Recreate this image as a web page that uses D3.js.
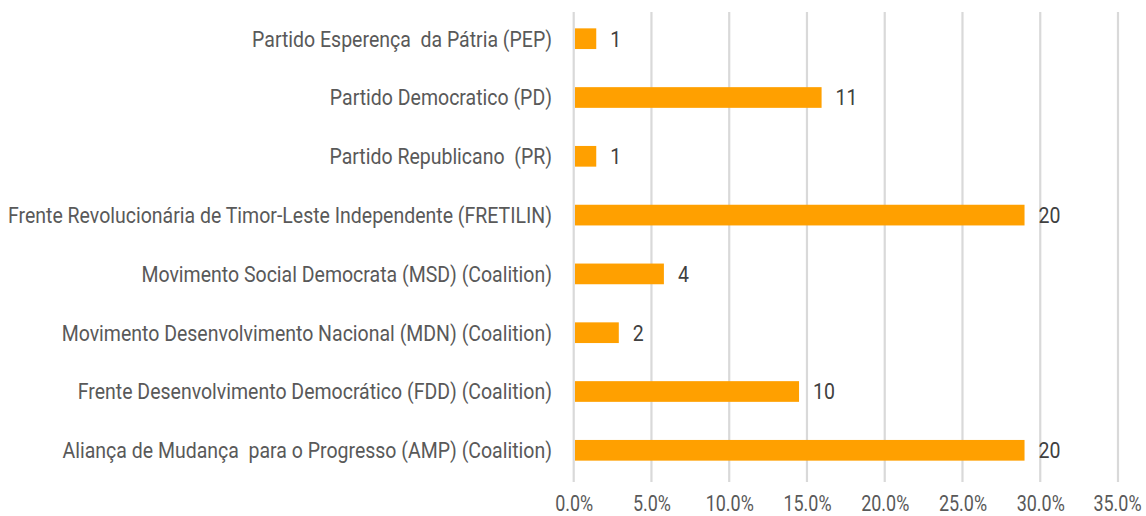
<!DOCTYPE html>
<html><head><meta charset="utf-8">
<script src="https://cdn.jsdelivr.net/npm/d3@7"></script>
<style>html,body{margin:0;padding:0;background:#fff;}svg{display:block;}</style>
</head><body>
<svg id="chart" width="1146" height="516"></svg>
<script>
const categories = [
  "Partido Esperença  da Pátria (PEP)",
  "Partido Democratico (PD)",
  "Partido Republicano  (PR)",
  "Frente Revolucionária de Timor-Leste Independente (FRETILIN)",
  "Movimento Social Democrata (MSD) (Coalition)",
  "Movimento Desenvolvimento Nacional (MDN) (Coalition)",
  "Frente Desenvolvimento Democrático (FDD) (Coalition)",
  "Aliança de Mudança  para o Progresso (AMP) (Coalition)"
];
const shares = [0.0145, 0.1594, 0.0145, 0.2899, 0.0580, 0.0290, 0.1449, 0.2899];
const seats = [1, 11, 1, 20, 4, 2, 10, 20];
const ticks = [0, 0.05, 0.10, 0.15, 0.20, 0.25, 0.30, 0.35];

const svg = d3.select("#chart");
const x = d3.scaleLinear().domain([0, 0.35]).range([573.7, 1118]);
const y = d3.scaleBand().domain(categories).range([9.3, 479.7]).paddingInner(0.648).paddingOuter(0.324);
const textColor = "#595959";
const font = "Roboto, 'Liberation Sans', sans-serif";
const fs = 22;

// condense factor so the longest label spans like the reference (Roboto Condensed look)
const probe = svg.append("text").attr("font-family", font).attr("font-size", fs)
  .style("white-space", "pre").text(categories[3]);
const condense = 544 / probe.node().getComputedTextLength();
probe.remove();

function cond(sel, k = 1) {
  sel.each(function() {
    const w = this.getComputedTextLength();
    d3.select(this).attr("textLength", w * condense * k).attr("lengthAdjust", "spacingAndGlyphs");
  });
}

// gridlines
svg.append("g").selectAll("line").data(ticks).join("line")
  .attr("x1", d => x(d)).attr("x2", d => x(d))
  .attr("y1", 12).attr("y2", 482)
  .attr("stroke", "#d9d9d9").attr("stroke-width", 2.2);

// bars
svg.append("g").selectAll("rect").data(categories).join("rect")
  .attr("x", x(0) + 1.3).attr("y", d => y(d))
  .attr("width", (d, i) => x(shares[i]) - x(0) - 1.3)
  .attr("height", y.bandwidth())
  .attr("fill", "#ffa000");

// value labels
svg.append("g").selectAll("text").data(categories).join("text")
  .attr("x", (d, i) => x(shares[i]) + 14)
  .attr("y", d => y(d) + y.bandwidth() / 2)
  .attr("dy", "0.36em")
  .attr("font-family", font).attr("font-size", fs).attr("fill", "#404040")
  .text((d, i) => seats[i]).call(cond);

// category labels
svg.append("g").selectAll("text").data(categories).join("text")
  .attr("x", 552)
  .attr("y", d => y(d) + y.bandwidth() / 2)
  .attr("dy", "0.36em")
  .attr("text-anchor", "end")
  .attr("font-family", font).attr("font-size", fs).attr("fill", textColor)
  .style("white-space", "pre")
  .text(d => d).call(cond);

// x axis tick labels
const axis = d3.axisBottom(x).tickValues(ticks).tickFormat(d3.format(".1%")).tickSize(0).tickPadding(0);
const ax = svg.append("g").attr("transform", "translate(0,511)").call(axis);
ax.select(".domain").remove();
ax.selectAll("text").attr("font-family", font).attr("font-size", fs).attr("fill", textColor)
  .attr("y", 0).attr("dy", 0).call(cond, 0.92);
// keep the last label inside the canvas (right-aligned at the same visual position)
ax.selectAll(".tick").filter(d => d === 0.35).select("text").each(function() {
  const w = +d3.select(this).attr("textLength");
  d3.select(this).attr("text-anchor", "end").attr("x", w / 2 - 1);
});
</script>
</body></html>
